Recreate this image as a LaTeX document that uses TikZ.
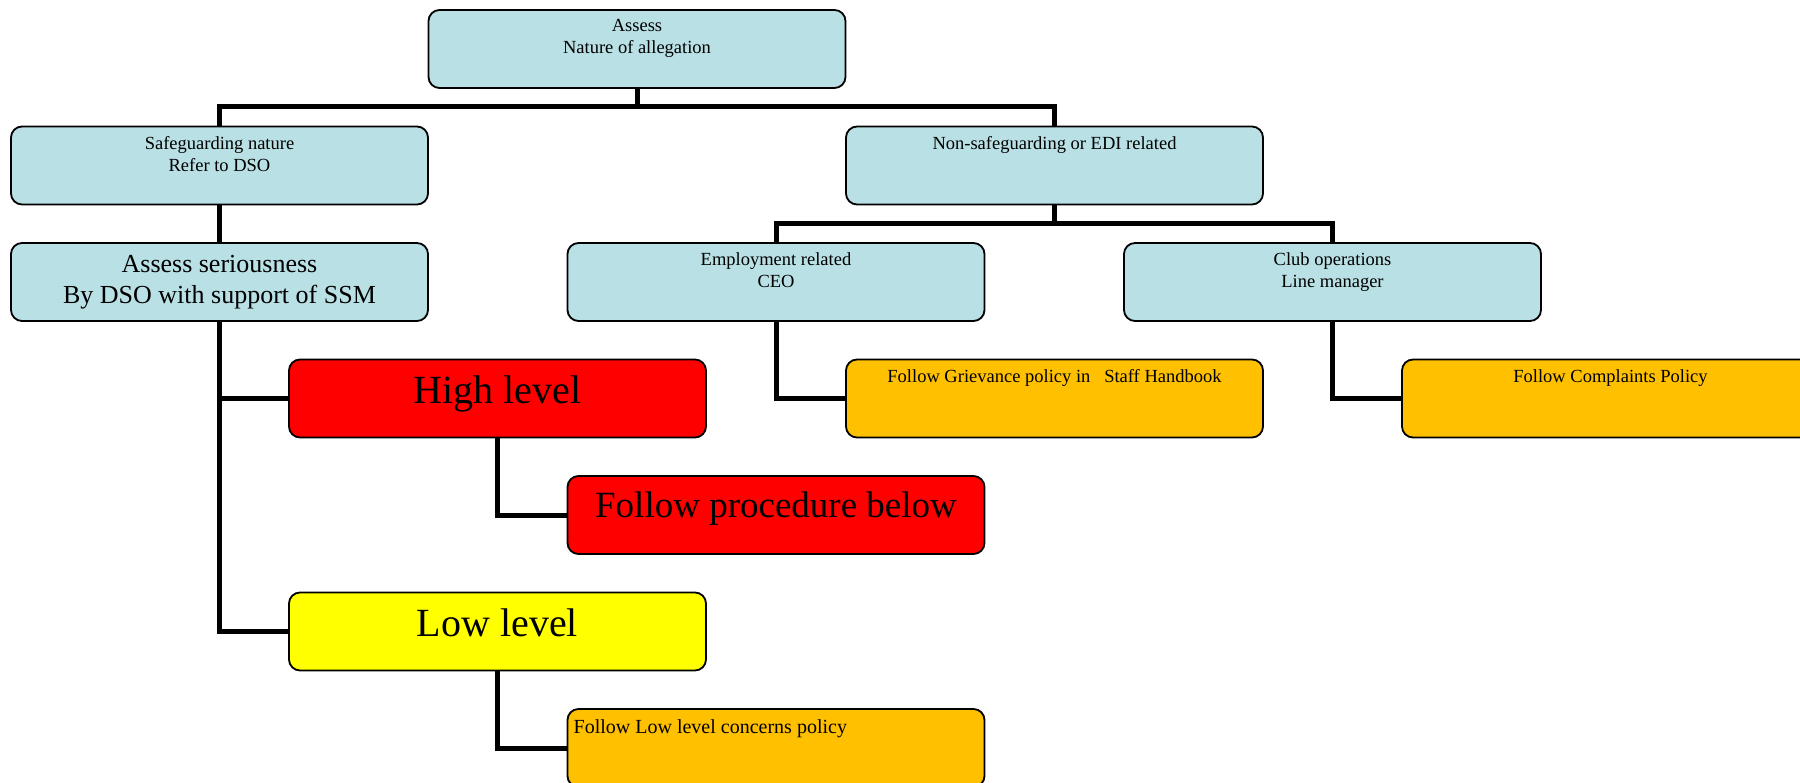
\documentclass[tikz,border=0pt]{standalone}
\usepackage{fontspec}
\setmainfont{Liberation Serif}
\definecolor{boxblue}{RGB}{185,224,228}
\definecolor{boxorange}{RGB}{255,192,0}
\definecolor{boxred}{RGB}{255,0,0}
\definecolor{boxyellow}{RGB}{255,255,0}
\tikzset{
  box/.style={draw=black, line width=1.8pt, rounded corners=11pt,
    minimum width=417pt, minimum height=78pt, inner sep=0pt, outer sep=0pt},
  bluebox/.style={box, fill=boxblue},
  orangebox/.style={box, fill=boxorange},
  redbox/.style={box, fill=boxred},
  yellowbox/.style={box, fill=boxyellow},
  smalltxt/.style={font=\fontsize{18.5}{22}\selectfont, align=center, inner sep=0pt, anchor=base},
  midtxt/.style={font=\fontsize{26}{31}\selectfont, align=center, inner sep=0pt, anchor=base},
  bigtxt/.style={font=\fontsize{40}{46}\selectfont, inner sep=0pt, anchor=base},
  conn/.style={line width=5pt, draw=black}
}
\begin{document}
\begin{tikzpicture}[x=1pt,y=-1pt]
\useasboundingbox (0,0) rectangle (1800,783);
% boxes
\node[bluebox] (top) at (637,49) {};
\node[bluebox] (safe) at (219.5,165.5) {};
\node[bluebox] (nonsafe) at (1054.5,165.5) {};
\node[bluebox] (serious) at (219.5,282) {};
\node[bluebox] (employ) at (776,282) {};
\node[bluebox] (club) at (1332.5,282) {};
\node[redbox] (high) at (497.5,398.5) {};
\node[orangebox] (griev) at (1054.5,398.5) {};
\node[orangebox] (compl) at (1610.5,398.5) {};
\node[redbox] (proc) at (776,515) {};
\node[yellowbox] (low) at (497.5,631.5) {};
\node[orangebox] (lowc) at (776,748) {};
% connector junctions
\coordinate (j1) at (637,107);
\coordinate (j2) at (1054.5,223.5);
% connectors
\draw[conn] (top.south) -- (j1);
\draw[conn] (safe.north) |- (j1) -| (nonsafe.north);
\draw[conn] (nonsafe.south) -- (j2);
\draw[conn] (employ.north) |- (j2) -| (club.north);
\draw[conn] (safe.south) -- (serious.north);
\draw[conn] (serious.south) |- (low.west);
\draw[conn] (serious.south) |- (high.west);
\draw[conn] (high.south) |- (proc.west);
\draw[conn] (low.south) |- (lowc.west);
\draw[conn] (employ.south) |- (griev.west);
\draw[conn] (club.south) |- (compl.west);
% texts (base anchor = baseline of last line)
\node[smalltxt] (topT) at ([yshift=-44pt]top.north) {Assess\\Nature of allegation};
\node[smalltxt] (safeT) at ([yshift=-45pt]safe.north) {Safeguarding nature\\Refer to DSO};
\node[smalltxt] (nonsafeT) at ([yshift=-23pt]nonsafe.north) {Non-safeguarding or EDI related};
\node[midtxt] (seriousT) at ([yshift=-61pt]serious.north) {Assess seriousness\\By DSO with support of SSM};
\node[smalltxt] (employT) at ([yshift=-45pt]employ.north) {Employment related\\CEO};
\node[smalltxt] (clubT) at ([yshift=-45pt]club.north) {Club operations\\Line manager};
\node[bigtxt] (highT) at ([yshift=-44pt]high.north) {High level};
\node[smalltxt] (grievT) at ([yshift=-23pt]griev.north) {Follow Grievance policy in\ \ \ Staff Handbook};
\node[smalltxt] (complT) at ([yshift=-23pt]compl.north) {Follow Complaints Policy};
\node[bigtxt, font=\fontsize{37}{43}\selectfont] (procT) at ([yshift=-41pt]proc.north) {Follow procedure below};
\node[bigtxt] (lowT) at ([yshift=-44pt]low.north) {Low level};
\node[smalltxt, font=\fontsize{20}{24}\selectfont, anchor=base west] (lowcT) at ([xshift=6pt,yshift=-24pt]lowc.north west) {Follow Low level concerns policy};
\end{tikzpicture}
\end{document}
